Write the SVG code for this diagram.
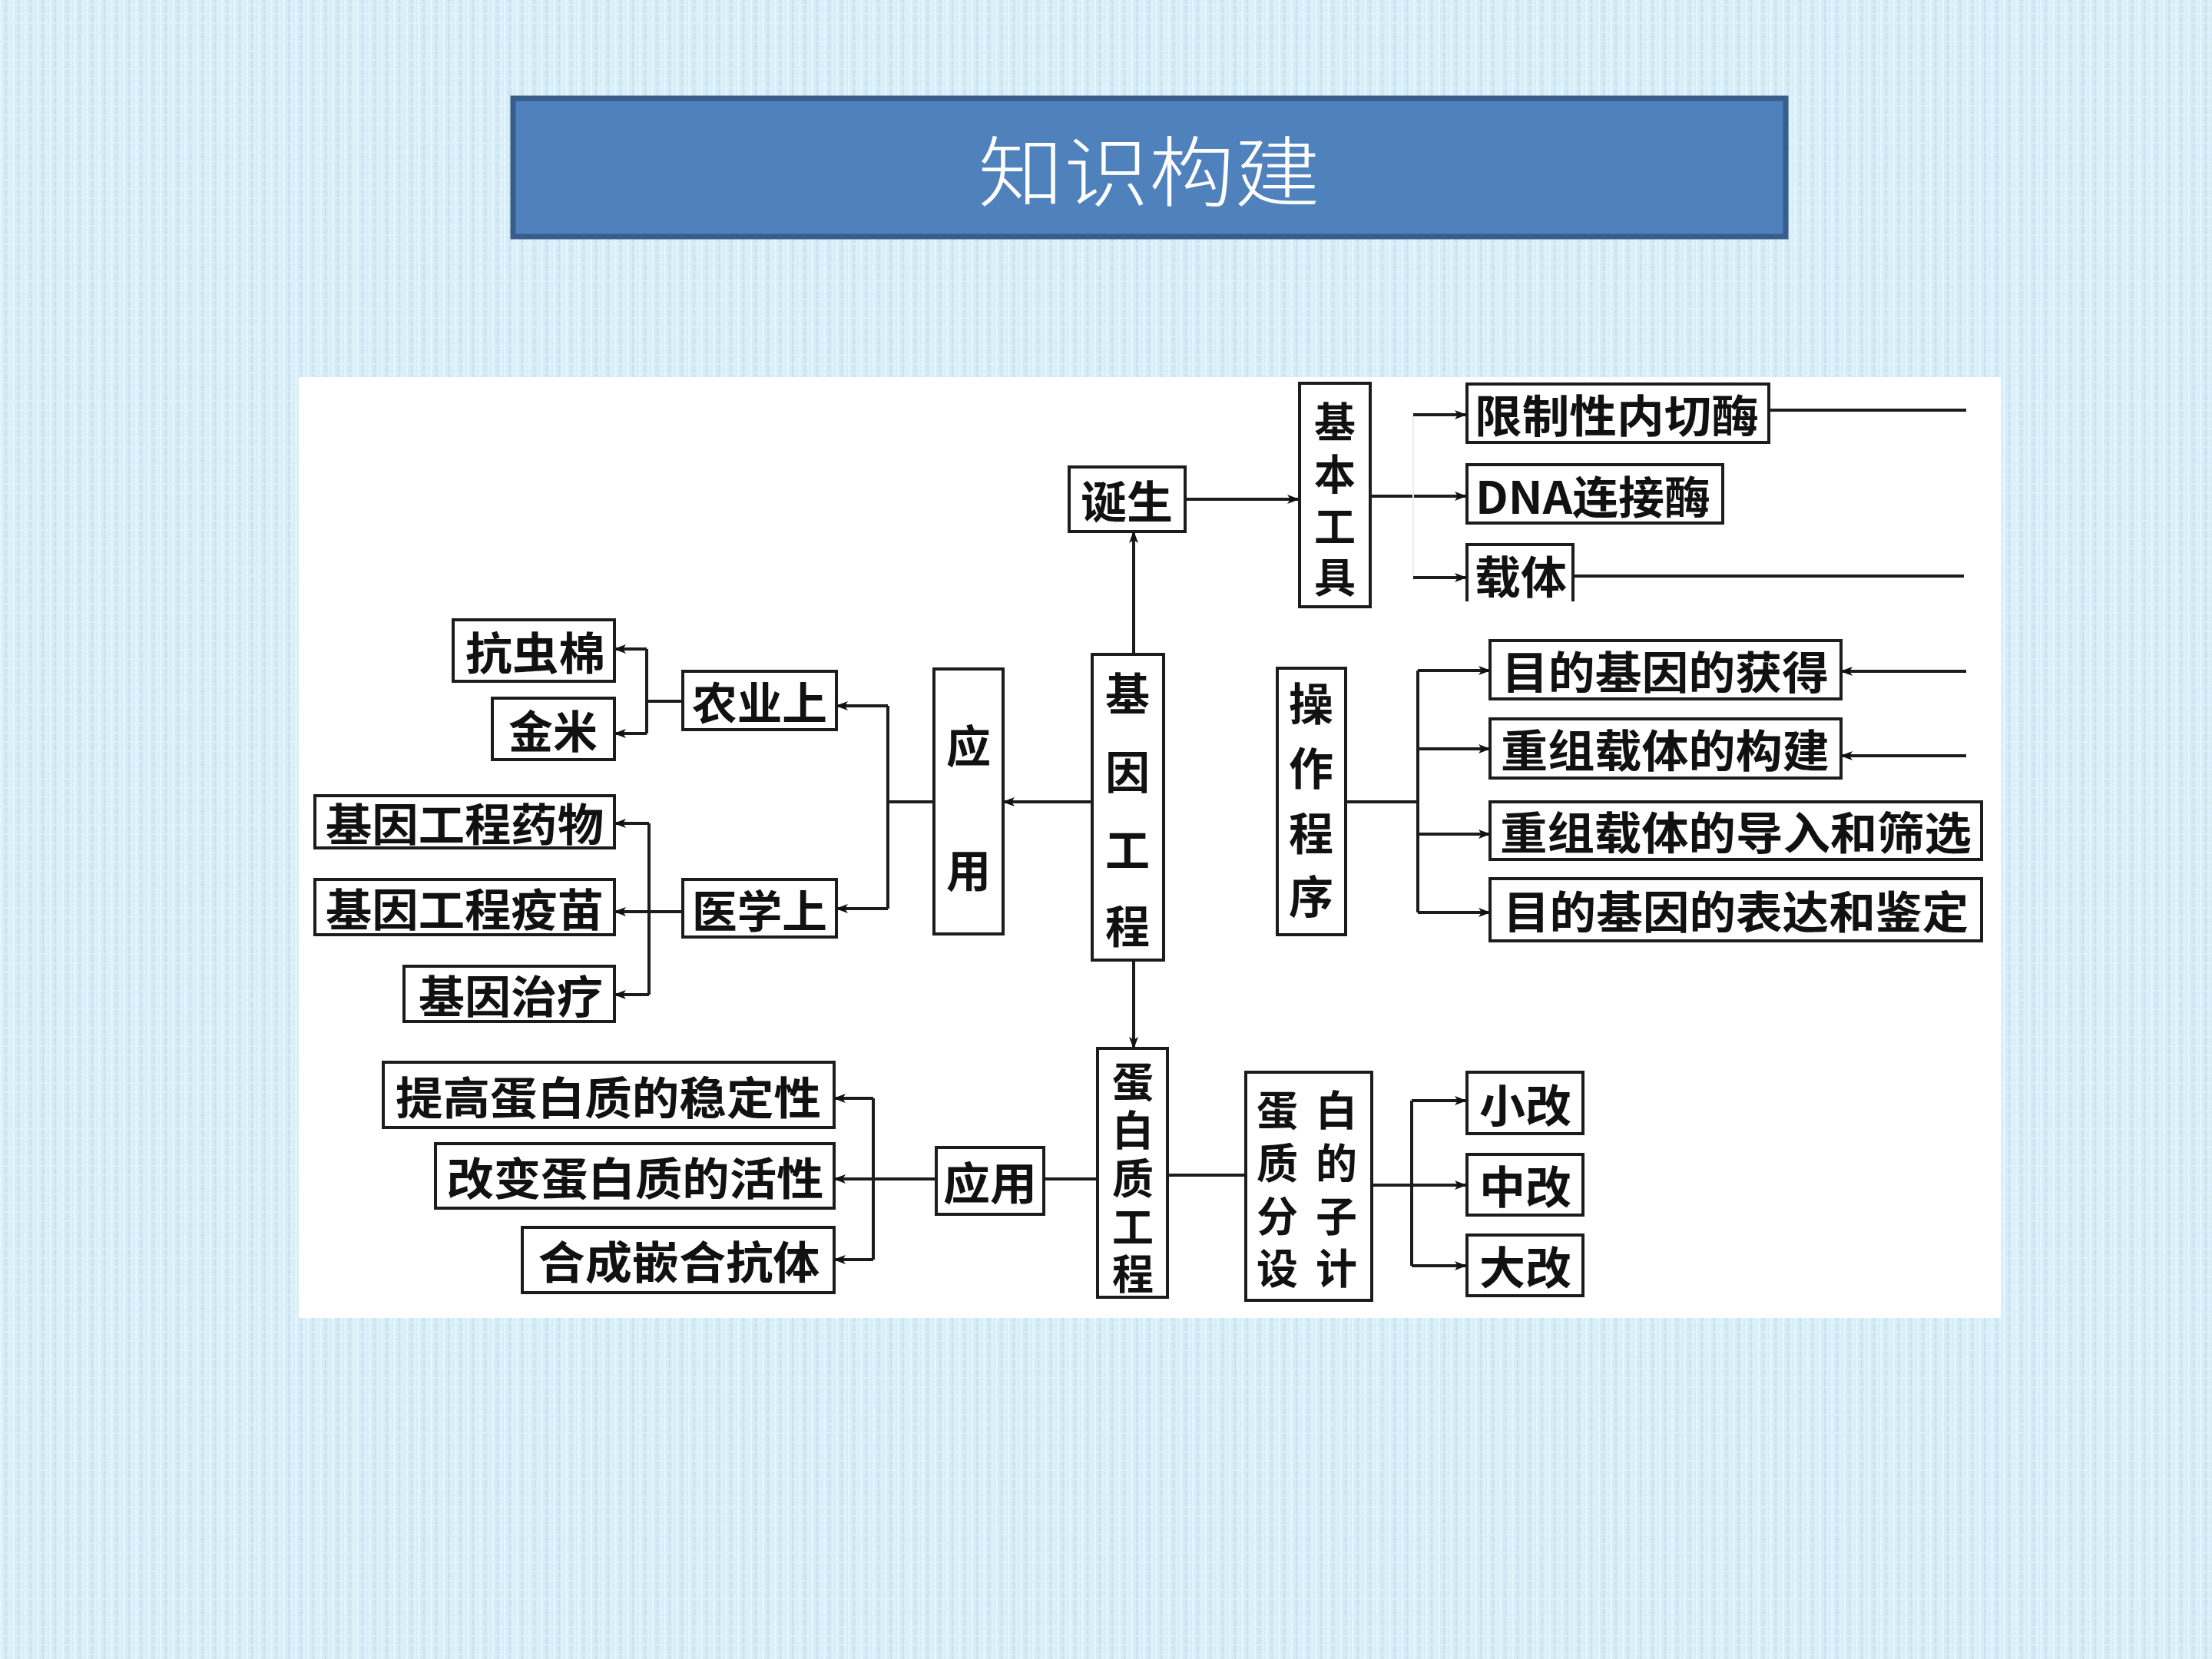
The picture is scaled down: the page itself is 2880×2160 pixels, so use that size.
<svg xmlns="http://www.w3.org/2000/svg" width="2880" height="2160" viewBox="0 0 2880 2160">
<defs>
<pattern id="bg" width="16" height="12" patternUnits="userSpaceOnUse">
<rect width="16" height="12" fill="#d5ecf7"/>
<rect x="0" y="0" width="3" height="12" fill="#e4f6fc"/>
<rect x="7" y="0" width="2" height="12" fill="#c9e2f0"/>
<rect x="11" y="0" width="3" height="12" fill="#ddf1f9"/>
<rect x="0" y="5" width="16" height="2" fill="#e2f4fb" opacity="0.7"/>
</pattern>
<marker id="ah" viewBox="0 0 16 12" refX="15" refY="6" markerWidth="16" markerHeight="12" markerUnits="userSpaceOnUse" orient="auto">
<path d="M0,0 L16,6 L0,12 L4,6 Z" fill="#111"/>
</marker>
<style>
.box{fill:#fff;stroke:#1c1c1c;stroke-width:4}
.t{font-family:"Noto Sans CJK SC","Noto Sans CJK TC",sans-serif;font-size:58px;font-weight:600;fill:#111;text-anchor:middle;dominant-baseline:central}
.s{font-size:54px}
.ln{fill:none;stroke:#1c1c1c;stroke-width:4}
.ar{fill:none;stroke:#1c1c1c;stroke-width:4;marker-end:url(#ah)}
</style>
</defs>
<rect width="2880" height="2160" fill="url(#bg)"/>
<g id="title">
<rect x="668" y="128" width="1657" height="180" fill="#4f81bd" stroke="#385d8a" stroke-width="7"/>
<text x="1496" y="217" font-family="'Noto Sans CJK SC',sans-serif" font-size="100" font-weight="300" fill="#ffffff" text-anchor="middle" dominant-baseline="central" textLength="445" lengthAdjust="spacingAndGlyphs">知识构建</text>
</g>
<rect id="panel" x="389" y="491" width="2216" height="1225" fill="#ffffff"/>
<g id="connectors">
<path class="ar" d="M1422,1044 H1306"/>
<path class="ln" d="M1216,1044 H1156 M1156,919 V1183"/>
<path class="ar" d="M1156,919 H1089"/>
<path class="ar" d="M1156,1183 H1089"/>
<path class="ln" d="M889,913 H842 M842,845 V955"/>
<path class="ar" d="M842,845 H800"/>
<path class="ar" d="M842,955 H800"/>
<path class="ln" d="M845,1072 V1295"/>
<path class="ar" d="M889,1187 H800"/>
<path class="ar" d="M845,1072 H800"/>
<path class="ar" d="M845,1295 H800"/>
<path class="ar" d="M1476,852 V692"/>
<path class="ar" d="M1543,650 H1691"/>
<path class="ar" d="M1784,646 H1909"/>
<path d="M1840,540 V756" stroke="#ececec" stroke-width="2" fill="none"/>
<path class="ar" d="M1840,540 H1909"/>
<path class="ar" d="M1840,752 H1909"/>
<path class="ln" d="M2303,534 H2560"/>
<path class="ln" d="M2050,750 H2557"/>
<path class="ar" d="M2560,874 H2397"/>
<path class="ar" d="M2560,984 H2397"/>
<path class="ln" d="M1752,1044 H1846 M1846,873 V1188"/>
<path class="ar" d="M1846,873 H1940"/>
<path class="ar" d="M1846,975 H1940"/>
<path class="ar" d="M1846,1086 H1940"/>
<path class="ar" d="M1846,1188 H1940"/>
<path class="ar" d="M1476,1250 V1365"/>
<path class="ln" d="M1429,1535 H1359"/>
<path class="ln" d="M1520,1530 H1622"/>
<path class="ar" d="M1219,1535 H1086"/>
<path class="ln" d="M1137,1430 V1640"/>
<path class="ar" d="M1137,1430 H1086"/>
<path class="ar" d="M1137,1640 H1086"/>
<path class="ar" d="M1786,1543 H1909"/>
<path class="ln" d="M1838,1433 V1648"/>
<path class="ar" d="M1838,1433 H1909"/>
<path class="ar" d="M1838,1648 H1909"/>
</g>
<g id="n-jiyingongcheng">
<rect class="box" x="1422" y="852" width="93" height="398"/>
<text class="t" x="1468" y="900">基</text>
<text class="t" x="1468" y="1002">因</text>
<text class="t" x="1468" y="1103">工</text>
<text class="t" x="1468" y="1203">程</text>
</g>
<g id="n-yingyong1">
<rect class="box" x="1216" y="871" width="90" height="345"/>
<text class="t" x="1261" y="968">应</text>
<text class="t" x="1261" y="1130">用</text>
</g>
<g id="n-nongye">
<rect class="box" x="889" y="874" width="200" height="76"/>
<text class="t" x="989" y="912" textLength="176" lengthAdjust="spacingAndGlyphs">农业上</text>
</g>
<g id="n-yixue">
<rect class="box" x="889" y="1145" width="200" height="75"/>
<text class="t" x="989" y="1183" textLength="176" lengthAdjust="spacingAndGlyphs">医学上</text>
</g>
<g id="n-kangchongmian">
<rect class="box" x="590" y="807" width="210" height="80"/>
<text class="t" x="697" y="847" textLength="182" lengthAdjust="spacingAndGlyphs">抗虫棉</text>
</g>
<g id="n-jinmi">
<rect class="box" x="641" y="909" width="159" height="80"/>
<text class="t" x="720" y="949" textLength="116" lengthAdjust="spacingAndGlyphs">金米</text>
</g>
<g id="n-yaowu">
<rect class="box" x="410" y="1036" width="390" height="68"/>
<text class="t" x="605" y="1070" textLength="362" lengthAdjust="spacingAndGlyphs">基因工程药物</text>
</g>
<g id="n-yimiao">
<rect class="box" x="410" y="1145" width="390" height="72"/>
<text class="t" x="605" y="1181" textLength="362" lengthAdjust="spacingAndGlyphs">基因工程疫苗</text>
</g>
<g id="n-zhiliao">
<rect class="box" x="526" y="1258" width="274" height="72"/>
<text class="t" x="665" y="1294" textLength="240" lengthAdjust="spacingAndGlyphs">基因治疗</text>
</g>
<g id="n-dansheng">
<rect class="box" x="1392" y="608" width="151" height="84"/>
<text class="t" x="1467" y="650" textLength="120" lengthAdjust="spacingAndGlyphs">诞生</text>
</g>
<g id="n-jibengongju">
<rect class="box" x="1692" y="499" width="92" height="291"/>
<text class="t s" x="1738" y="546">基</text>
<text class="t s" x="1738" y="614">本</text>
<text class="t s" x="1738" y="682">工</text>
<text class="t s" x="1738" y="748">具</text>
</g>
<g id="n-xianzhimei">
<rect class="box" x="1910" y="500" width="393" height="76"/>
<text class="t" x="2105" y="538" textLength="370" lengthAdjust="spacingAndGlyphs">限制性内切酶</text>
</g>
<g id="n-lianjiemei">
<rect class="box" x="1910" y="605" width="333" height="76"/>
<text class="t" x="2074" y="644" textLength="306" lengthAdjust="spacingAndGlyphs">DNA连接酶</text>
</g>
<g id="n-zaiti">
<path class="ln" d="M1910,783 V709 H2048 V783"/>
<text class="t" x="1980" y="748" textLength="120" lengthAdjust="spacingAndGlyphs">载体</text>
</g>
<g id="n-caozuochengxu">
<rect class="box" x="1663" y="870" width="89" height="347"/>
<text class="t" x="1707" y="913">操</text>
<text class="t" x="1707" y="997">作</text>
<text class="t" x="1707" y="1082">程</text>
<text class="t" x="1707" y="1164">序</text>
</g>
<g id="n-huode">
<rect class="box" x="1940" y="834" width="457" height="76"/>
<text class="t" x="2168" y="872" textLength="426" lengthAdjust="spacingAndGlyphs">目的基因的获得</text>
</g>
<g id="n-goujian">
<rect class="box" x="1940" y="936" width="457" height="77"/>
<text class="t" x="2168" y="974" textLength="428" lengthAdjust="spacingAndGlyphs">重组载体的构建</text>
</g>
<g id="n-daoru">
<rect class="box" x="1940" y="1044" width="640" height="75"/>
<text class="t" x="2260" y="1081" textLength="614" lengthAdjust="spacingAndGlyphs">重组载体的导入和筛选</text>
</g>
<g id="n-biaoda">
<rect class="box" x="1940" y="1144" width="640" height="81"/>
<text class="t" x="2260" y="1184" textLength="606" lengthAdjust="spacingAndGlyphs">目的基因的表达和鉴定</text>
</g>
<g id="n-danbaizhigongcheng">
<rect class="box" x="1429" y="1365" width="91" height="324"/>
<text class="t s" x="1475" y="1405">蛋</text>
<text class="t s" x="1475" y="1468">白</text>
<text class="t s" x="1475" y="1531">质</text>
<text class="t s" x="1475" y="1594">工</text>
<text class="t s" x="1475" y="1655">程</text>
</g>
<g id="n-yingyong2">
<rect class="box" x="1219" y="1494" width="140" height="87"/>
<text class="t" x="1289" y="1537" textLength="122" lengthAdjust="spacingAndGlyphs">应用</text>
</g>
<g id="n-wendingxing">
<rect class="box" x="499" y="1383" width="587" height="85"/>
<text class="t" x="792" y="1426" textLength="554" lengthAdjust="spacingAndGlyphs">提高蛋白质的稳定性</text>
</g>
<g id="n-huoxing">
<rect class="box" x="567" y="1489" width="519" height="84"/>
<text class="t" x="827" y="1531" textLength="491" lengthAdjust="spacingAndGlyphs">改变蛋白质的活性</text>
</g>
<g id="n-kangti">
<rect class="box" x="680" y="1598" width="406" height="85"/>
<text class="t" x="884" y="1640" textLength="367" lengthAdjust="spacingAndGlyphs">合成嵌合抗体</text>
</g>
<g id="n-fenzisheji">
<rect class="box" x="1622" y="1396" width="164" height="297"/>
<text class="t s" x="1663" y="1442">蛋</text>
<text class="t s" x="1740" y="1442">白</text>
<text class="t s" x="1663" y="1511">质</text>
<text class="t s" x="1740" y="1511">的</text>
<text class="t s" x="1663" y="1580">分</text>
<text class="t s" x="1740" y="1580">子</text>
<text class="t s" x="1663" y="1648">设</text>
<text class="t s" x="1740" y="1648">计</text>
</g>
<g id="n-xiaogai">
<rect class="box" x="1910" y="1396" width="151" height="80"/>
<text class="t" x="1986" y="1436" textLength="120" lengthAdjust="spacingAndGlyphs">小改</text>
</g>
<g id="n-zhonggai">
<rect class="box" x="1910" y="1503" width="151" height="79"/>
<text class="t" x="1986" y="1542" textLength="120" lengthAdjust="spacingAndGlyphs">中改</text>
</g>
<g id="n-dagai">
<rect class="box" x="1910" y="1608" width="151" height="79"/>
<text class="t" x="1986" y="1647" textLength="120" lengthAdjust="spacingAndGlyphs">大改</text>
</g>
</svg>
